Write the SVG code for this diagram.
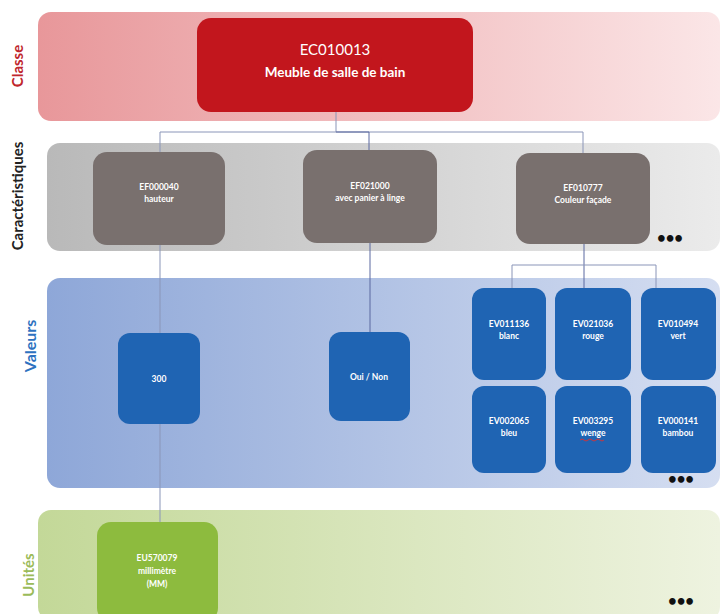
<svg xmlns="http://www.w3.org/2000/svg" width="726" height="614" viewBox="0 0 726 614">
<defs>
<linearGradient id="gRed" x1="0" y1="0" x2="1" y2="0"><stop offset="0" stop-color="#e8979a"/><stop offset="1" stop-color="#fbe6e7"/></linearGradient>
<linearGradient id="gGrey" x1="0" y1="0" x2="1" y2="0"><stop offset="0" stop-color="#b9b9b9"/><stop offset="1" stop-color="#ebebeb"/></linearGradient>
<linearGradient id="gBlue" x1="0" y1="0" x2="1" y2="0"><stop offset="0" stop-color="#8ea7d8"/><stop offset="1" stop-color="#d5def1"/></linearGradient>
<linearGradient id="gGreen" x1="0" y1="0" x2="1" y2="0"><stop offset="0" stop-color="#c3d898"/><stop offset="1" stop-color="#eef3e0"/></linearGradient>
<style>
text{font-family:Lato,"Open Sans","Liberation Sans",sans-serif;text-anchor:middle}
.lbl{font-weight:bold;font-size:15px}
.t{fill:#ffffff;font-size:8.5px;font-weight:bold}
.grey{fill:#79706e}
.blue{fill:#1f64b3}
.green{fill:#8dbb3e}
.con{fill:none;stroke:#8a95b8;stroke-width:1}
.con2{fill:none;stroke:#5a68a0;stroke-width:1}
.dots{font-size:15px;font-weight:bold;fill:#111}
</style>
</defs>
<rect width="726" height="614" fill="#ffffff"/>
<g id="bands">
<rect x="38" y="12" width="682" height="109" rx="13" fill="url(#gRed)"/>
<rect x="47" y="143" width="673" height="108" rx="13" fill="url(#gGrey)"/>
<rect x="47" y="278" width="673" height="210" rx="13" fill="url(#gBlue)"/>
<rect x="38" y="510" width="682" height="110" rx="13" fill="url(#gGreen)"/>
</g>
<g id="labels">
<text class="lbl" transform="translate(23,66) rotate(-90)" fill="#c0262c">Classe</text>
<text class="lbl" transform="translate(23,196) rotate(-90)" fill="#222">Caractéristiques</text>
<text transform="translate(36,346) rotate(-90)" fill="#2e72c0" font-size="16" font-weight="bold">Valeurs</text>
<text class="lbl" transform="translate(34,575) rotate(-90)" fill="#9bbb59">Unités</text>
</g>
<g id="connectors">
<path class="con" d="M336 112V132M160 132H583M160 132V152M583 132V153"/>
<path class="con2" d="M336 132H369V150"/>
<path class="con" d="M160 245V522"/>
<path class="con2" d="M370 243V332"/>
<path class="con2" d="M584 244V289"/>
<path class="con" d="M512 265H656M512 265V289M656 265V289"/>
</g>
<g id="classe">
<rect x="197" y="18" width="276" height="94" rx="14" fill="#c2161d"/>
<text x="335" y="55" fill="#fff" font-size="15">EC010013</text>
<text x="335" y="77" fill="#fff" font-size="13.5" font-weight="bold">Meuble de salle de bain</text>
</g>
<g id="ef000040">
<rect class="grey" x="93" y="152" width="132" height="93" rx="14"/>
<text class="t" x="159" y="190">EF000040</text><text class="t" x="159" y="202">hauteur</text>
</g>
<g id="ef021000">
<rect class="grey" x="303" y="150" width="134" height="93" rx="14"/>
<text class="t" x="370" y="189">EF021000</text><text class="t" x="370" y="201">avec panier à linge</text>
</g>
<g id="ef010777">
<rect class="grey" x="516" y="153" width="134" height="91" rx="14"/>
<text class="t" x="583" y="191">EF010777</text><text class="t" x="583" y="203">Couleur façade</text>
</g>
<text class="dots" x="670" y="243">•••</text>
<g id="v300">
<rect class="blue" x="118" y="333" width="82" height="91" rx="12"/>
<text class="t" x="159" y="382">300</text>
</g>
<g id="ouinon">
<rect class="blue" x="329" y="332" width="81" height="89" rx="12"/>
<text class="t" x="369" y="380">Oui / Non</text>
</g>
<g id="ev011136">
<rect class="blue" x="472" y="288" width="74" height="92" rx="12"/>
<text class="t" x="509" y="327">EV011136</text><text class="t" x="509" y="339">blanc</text>
</g>
<g id="ev021036">
<rect class="blue" x="555" y="288" width="76" height="92" rx="12"/>
<text class="t" x="593" y="327">EV021036</text><text class="t" x="593" y="339">rouge</text>
</g>
<g id="ev010494">
<rect class="blue" x="641" y="288" width="75" height="92" rx="12"/>
<text class="t" x="678" y="327">EV010494</text><text class="t" x="678" y="339">vert</text>
</g>
<g id="ev002065">
<rect class="blue" x="472" y="386" width="74" height="87" rx="12"/>
<text class="t" x="509" y="424">EV002065</text><text class="t" x="509" y="436">bleu</text>
</g>
<g id="ev003295">
<rect class="blue" x="555" y="386" width="76" height="87" rx="12"/>
<text class="t" x="593" y="424">EV003295</text><text class="t" x="593" y="436">wenge</text>
<path d="M580 440q2-2 4 0t4 0t4 0t4 0t4 0t4 0" fill="none" stroke="#e03030" stroke-width="0.9"/>
</g>
<g id="ev000141">
<rect class="blue" x="641" y="386" width="75" height="87" rx="12"/>
<text class="t" x="678" y="424">EV000141</text><text class="t" x="678" y="436">bambou</text>
</g>
<text class="dots" x="681" y="484">•••</text>
<g id="eu570079">
<rect class="green" x="97" y="522" width="121" height="100" rx="14"/>
<text class="t" x="157" y="561">EU570079</text><text class="t" x="157" y="574">millimètre</text><text class="t" x="157" y="587">(MM)</text>
</g>
<text class="dots" x="681" y="606">•••</text>
</svg>
